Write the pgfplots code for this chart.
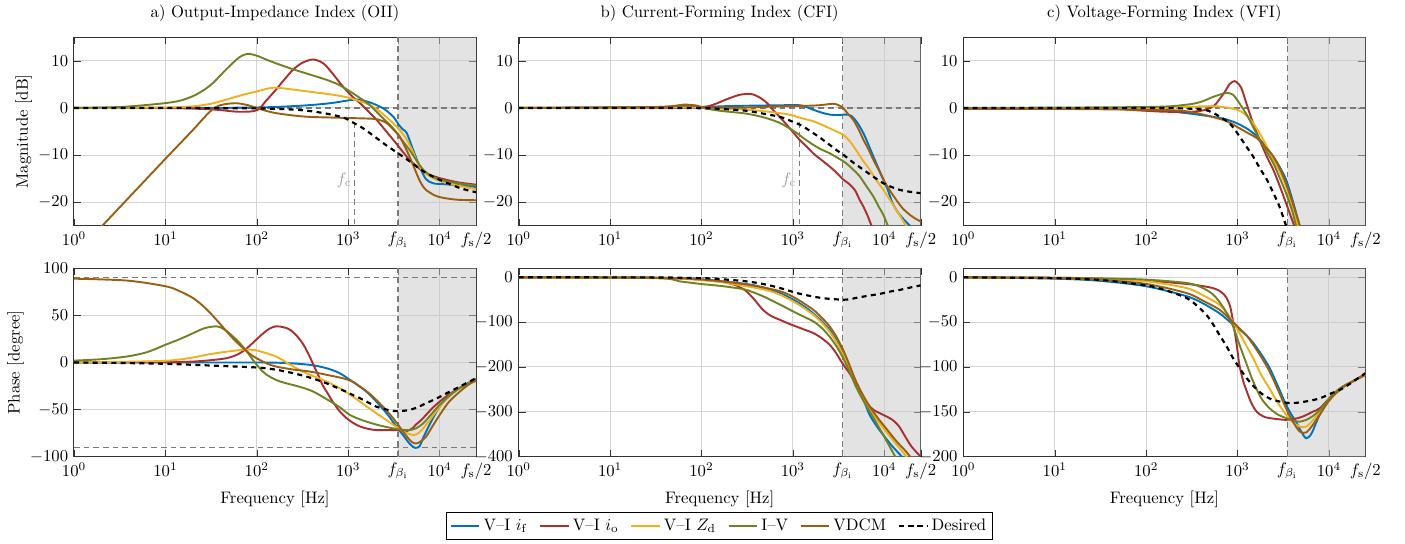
\documentclass[border=0pt]{standalone}
\usepackage{pgfplots}
\pgfplotsset{compat=1.18}
\definecolor{cB}{HTML}{0072BD}
\definecolor{cR}{HTML}{A8302F}
\definecolor{cY}{HTML}{EDB120}
\definecolor{cG}{HTML}{718225}
\definecolor{cO}{HTML}{9B5F14}
\definecolor{shadeC}{HTML}{C8C8C8}
\definecolor{refC}{HTML}{7A7A7A}
\pgfplotsset{
  every axis/.append style={
    scale only axis, width=241.2pt, height=113.0pt,
    xmode=log, xmin=1, xmax=25000,
    xtick={1,10,100,1000,10000},
    extra x ticks={3500,25000},
    extra x tick labels={$f_{\beta_\mathrm{i}}$,$f_\mathrm{s}/2$},
    extra x tick style={grid=none},
    xminorticks=false,
    grid=major,
    major grid style={draw=black!17, line width=0.6pt},
    axis line style={black!80, line width=0.6pt},
    tick style={black!80},
    ylabel shift=-3pt,
  },
  every axis plot/.append style={line width=1.15pt},
}
\tikzset{
  refl/.style={refC, dash pattern=on 3.4pt off 2.4pt, line width=0.75pt},
  shadep/.style={fill=shadeC, fill opacity=0.5, draw=none},
  des/.style={black, dash pattern=on 3pt off 2.6pt, line width=1.3pt},
}
\begin{document}
\begin{tikzpicture}
\useasboundingbox (0,0) rectangle (843pt,326.4pt);

%================ a) magnitude
\begin{axis}[at={(44.4pt,191.0pt)}, anchor=south west,
  ymin=-25, ymax=15, ytick={-20,-10,0,10},
  title={a) Output-Impedance Index (OII)}, ylabel={Magnitude [dB]}]
\addplot[shadep, forget plot] coordinates {(3500,-25) (25000,-25) (25000,15) (3500,15) (3500,-25)};
\addplot[refl, forget plot] coordinates {(1,0) (25000,0)};
\addplot[refl, forget plot] coordinates {(3500,-25) (3500,15)};
\addplot[refl, forget plot] coordinates {(1170,-3) (1170,-25)};
\node[black!38, anchor=east, inner sep=1.5pt] at (axis cs:1170,-15.3) {$f_\mathrm{c}$};
\addplot[cB, smooth] coordinates {(1,0) (10,0) (100,0.1) (316.2,0.5) (631,1.0) (1000,1.6) (1259,1.8) (1585,1.4) (1995,0.7) (2512,-0.3) (3162,-2.0) (3548,-3.5) (3981,-4.6) (4365,-5.3) (5129,-8.9) (6026,-12.4) (7079,-15.1) (8511,-16.0) (11220,-16.2) (15850,-16.4) (25000,-16.8)};
\addplot[cR, smooth] coordinates {(1,0) (10,0) (31.62,-0.3) (63.1,-0.8) (100,-0.5) (125.9,1.5) (162.2,3.9) (199.5,6.0) (251.2,8.2) (316.2,9.6) (407.4,10.3) (501.2,9.8) (575.4,8.9) (707.9,6.8) (871,4.6) (1096,2.5) (1349,1.0) (1660,-0.7) (2042,-2.5) (2512,-4.6) (3090,-6.7) (3802,-8.9) (4677,-11) (5754,-12.6) (7079,-13.8) (8913,-14.6) (10960,-15.1) (15850,-15.8) (25000,-16.3)};
\addplot[cY, smooth] coordinates {(1,0) (10,0.1) (19.95,0.35) (31.62,0.9) (46.77,1.8) (70.79,2.8) (100,3.5) (151.4,4.3) (251.2,3.9) (398.1,3.4) (575.4,3.0) (794.3,2.6) (1047,2.1) (1349,1.4) (1698,0.7) (2239,-0.8) (3090,-3.2) (3631,-4.6) (4365,-6.7) (5012,-9.0) (5754,-11.7) (6607,-13.5) (7762,-14.5) (10000,-15.5) (15850,-16.5) (25000,-17.2)};
\addplot[cG, smooth] coordinates {(1,0) (3.162,0.2) (8.71,0.9) (14.13,1.5) (19.95,2.5) (26.3,3.8) (33.11,5.3) (42.66,7.5) (54.95,9.6) (66.07,10.9) (79.43,11.5) (100,11.1) (125.9,10.3) (177.8,9.2) (251.2,8.2) (380.2,7.1) (575.4,6.0) (794.3,4.9) (1047,3.5) (1349,2.1) (1698,0.7) (2239,-1.6) (3090,-4.3) (3802,-6.6) (4677,-8.9) (5623,-11.2) (6607,-13.1) (8318,-14.6) (10960,-15.4) (15850,-16.0) (25000,-16.5)};
\addplot[cO, smooth] coordinates {(1,-31.4) (3.162,-21.1) (10,-10.8) (19.95,-4.7) (28.18,-1.5) (35.48,0.2) (44.67,0.8) (60.26,1.0) (79.43,0.6) (100,0) (125.9,-0.6) (162.2,-1.1) (251.2,-1.6) (380.2,-1.9) (871,-2.1) (1862,-2.3) (2239,-2.6) (2630,-3.2) (3162,-4.7) (3631,-6) (4169,-8.2) (4677,-10.3) (5248,-12.6) (5754,-14.5) (6310,-16.1) (7079,-17.4) (8913,-18.6) (10960,-19.1) (15850,-19.5) (25000,-19.6)};
\addplot[des, smooth] coordinates {(1,0) (10,0) (100,-0.1) (251.2,-0.35) (398.1,-0.7) (575.4,-1.2) (758.6,-1.7) (955,-2.3) (1175,-3.3) (1349,-3.9) (1660,-5.1) (2042,-6.4) (2512,-7.7) (3090,-8.9) (3802,-10.1) (4677,-11.3) (5754,-12.6) (7079,-13.8) (8913,-14.8) (10960,-15.6) (13490,-16.3) (16600,-17) (20420,-17.5) (25000,-17.9)};
\end{axis}

%================ b) magnitude
\begin{axis}[at={(311.2pt,191.0pt)}, anchor=south west,
  ymin=-25, ymax=15, ytick={-20,-10,0,10},
  title={b) Current-Forming Index (CFI)}]
\addplot[shadep, forget plot] coordinates {(3500,-25) (25000,-25) (25000,15) (3500,15) (3500,-25)};
\addplot[refl, forget plot] coordinates {(1,0) (25000,0)};
\addplot[refl, forget plot] coordinates {(3500,-25) (3500,15)};
\addplot[refl, forget plot] coordinates {(1170,-3) (1170,-25)};
\node[black!38, anchor=east, inner sep=1.5pt] at (axis cs:1170,-15.3) {$f_\mathrm{c}$};
\addplot[cB, smooth] coordinates {(1,0) (63.1,0.2) (100,0.2) (199.5,0.4) (398.1,0.5) (1000,0.6) (1259,0.5) (1660,-0.35) (1995,-0.9) (2512,-1.4) (3162,-1.5) (3802,-1.4) (4365,-1.7) (5012,-3) (5888,-5.3) (6607,-7.5) (7586,-10.3) (8710,-13) (9772,-15.2) (10960,-17.5) (12300,-20.2) (14130,-22.2) (15850,-23.4) (19050,-25) (25000,-27)};
\addplot[cR, smooth] coordinates {(1,0) (31.62,0) (100,0.2) (134.9,0.7) (166,1.4) (204.2,2.1) (263,2.8) (338.8,3.0) (398.1,2.6) (467.7,1.8) (537,0.8) (602.6,-0.35) (724.4,-2) (851.1,-3.5) (1000,-5.1) (1175,-6.7) (1413,-8.2) (1660,-9.6) (2042,-11) (2512,-12.4) (3020,-13.8) (3548,-15.2) (4169,-16.2) (4786,-17.5) (5370,-19.5) (5888,-20.9) (6607,-23) (7244,-25) (8913,-29)};
\addplot[cY, smooth] coordinates {(1,0) (63.1,0.1) (100,0) (309,-0.35) (724.4,-1.1) (1000,-1.6) (1259,-2.2) (1660,-2.8) (2042,-3.5) (2512,-4.3) (3020,-5.0) (3548,-5.7) (4169,-7.0) (4898,-8.9) (5754,-11) (6918,-13.1) (8128,-15.3) (9772,-17.4) (11480,-19.5) (13490,-21.6) (15490,-23.5) (17380,-25) (25000,-29)};
\addplot[cG, smooth] coordinates {(1,0) (31.62,0.2) (63.1,0.6) (89.13,0.4) (104.7,0) (158.5,-0.6) (309,-1.2) (501.2,-2.1) (724.4,-3.2) (891.3,-4.2) (1096,-5.3) (1349,-6.6) (1660,-7.8) (2042,-8.8) (2512,-9.6) (3090,-10.6) (3802,-11.7) (4571,-13.1) (5370,-14.5) (6310,-16.5) (7586,-18.8) (8710,-21) (9772,-22.7) (10960,-25) (14130,-29)};
\addplot[cO, smooth] coordinates {(1,0) (31.62,0.2) (63.1,0.7) (89.13,0.5) (112.2,0.1) (316.2,0.1) (724.4,0.35) (1660,0.5) (2239,0.7) (2754,0.9) (3162,0.6) (3548,0) (3981,-1.2) (4571,-2.5) (5248,-4.6) (5888,-6.7) (6761,-8.9) (7586,-11) (8710,-13.2) (9772,-15.2) (11480,-17.5) (13490,-19.5) (15850,-21.3) (19050,-22.7) (21880,-23.5) (25000,-24.1)};
\addplot[des, smooth] coordinates {(1,0) (10,0) (100,-0.05) (158.5,-0.2) (309,-0.6) (501.2,-1.3) (724.4,-1.9) (933.3,-2.7) (1175,-3.5) (1413,-4.4) (1660,-5.3) (2042,-6.5) (2512,-7.8) (3020,-9) (3548,-9.9) (4571,-11.6) (5888,-13.1) (7586,-14.6) (9772,-16) (12020,-16.8) (14790,-17.4) (19050,-17.8) (25000,-18.1)};
\end{axis}

%================ c) magnitude
\begin{axis}[at={(578.0pt,191.0pt)}, anchor=south west,
  ymin=-25, ymax=15, ytick={-20,-10,0,10},
  title={c) Voltage-Forming Index (VFI)}]
\addplot[shadep, forget plot] coordinates {(3500,-25) (25000,-25) (25000,15) (3500,15) (3500,-25)};
\addplot[refl, forget plot] coordinates {(1,0) (25000,0)};
\addplot[refl, forget plot] coordinates {(3500,-25) (3500,15)};
\addplot[cB, smooth] coordinates {(1,-0.1) (10,-0.1) (100,-0.35) (275.4,-1.1) (631,-2.1) (831.8,-2.7) (1047,-3.5) (1318,-4.6) (1622,-6) (1995,-8.0) (2455,-10.3) (2884,-12.5) (3388,-15.2) (3981,-19.5) (4786,-25) (5495,-29)};
\addplot[cR, smooth] coordinates {(1,0) (31.62,-0.1) (79.43,-0.5) (158.5,-0.8) (316.2,-0.8) (457.1,-0.35) (562.3,0.6) (631,1.8) (724.4,3.4) (812.8,5) (891.3,5.6) (933.3,5.7) (1000,5.3) (1096,4.3) (1202,2.0) (1349,-1) (1514,-3.8) (1738,-6.7) (2042,-9.9) (2455,-13.1) (2884,-16.5) (3388,-20.2) (4169,-25) (5012,-29)};
\addplot[cY, smooth] coordinates {(1,0) (100,0) (416.9,0.35) (631,0.3) (977.2,-0.35) (1202,-1.3) (1479,-3.2) (1905,-6.7) (2455,-11) (2884,-13.5) (3388,-16.7) (3981,-21) (4571,-25) (5248,-28)};
\addplot[cG, smooth] coordinates {(1,0) (100,0.2) (275.4,0.7) (398.1,1.3) (501.2,2.1) (631,2.8) (758.6,3.2) (891.3,2.8) (1047,1.0) (1202,-0.8) (1349,-2.5) (1738,-6.7) (2042,-9.0) (2455,-11.7) (2884,-14.8) (3388,-18.1) (3981,-22) (4365,-25) (5012,-28)};
\addplot[cO, smooth] coordinates {(1,-0.2) (10,-0.2) (100,-0.4) (275.4,-0.7) (631,-2.3) (831.8,-3.2) (1047,-4.3) (1318,-5.4) (1622,-6.4) (1995,-8.2) (2455,-10.3) (2884,-12.8) (3388,-16) (3981,-20) (4786,-25) (5495,-29)};
\addplot[des, smooth] coordinates {(1,0) (100,0) (251.2,-0.1) (416.9,-0.35) (524.8,-0.9) (631,-1.8) (724.4,-2.5) (812.8,-3.2) (933.3,-4.6) (1047,-6) (1259,-8.3) (1479,-10.3) (1778,-13) (2089,-15.2) (2455,-18) (2884,-21) (3388,-25) (3981,-29)};
\end{axis}

%================ a) phase
\begin{axis}[at={(44.4pt,52.4pt)}, anchor=south west,
  ymin=-100, ymax=100, ytick={-100,-50,0,50,100},
  xlabel={Frequency [Hz]}, ylabel={Phase [degree]}]
\addplot[shadep, forget plot] coordinates {(3500,-100) (25000,-100) (25000,100) (3500,100) (3500,-100)};
\addplot[refl, forget plot] coordinates {(1,90) (25000,90)};
\addplot[refl, forget plot] coordinates {(1,-90) (25000,-90)};
\addplot[refl, forget plot] coordinates {(3500,-100) (3500,100)};
\addplot[cB, smooth] coordinates {(1,0) (10,0) (100,0) (199.5,-0.5) (380.2,-2.5) (575.4,-6) (794.3,-11) (1047,-18.5) (1288,-24.5) (1585,-31) (1862,-37.5) (2188,-45) (2630,-54) (3090,-63) (3548,-71) (3981,-77) (4677,-86) (5370,-90.6) (6026,-89) (6607,-80) (7762,-66) (8913,-55) (10000,-47) (12590,-36) (16600,-27) (20420,-22) (25000,-17.4)};
\addplot[cR, smooth] coordinates {(1,0) (10,0.3) (19.95,1) (31.62,2.5) (46.77,4.6) (63.1,9) (77.62,15) (95.5,23) (117.5,31) (138,36) (162.2,38.4) (195,37.5) (229.1,35) (275.4,28) (323.6,19) (371.5,8) (416.9,-2.5) (467.7,-13) (524.8,-24) (602.6,-33.5) (676.1,-41.6) (794.3,-51) (955,-59) (1148,-64.5) (1349,-68) (1660,-70.5) (2042,-71.8) (3090,-71.8) (3802,-72.3) (4365,-72.8) (5012,-70) (5495,-66) (6310,-61) (7079,-55.8) (8318,-48.5) (10000,-41.6) (12590,-34) (16600,-27) (20420,-23) (25000,-19.5)};
\addplot[cY, smooth] coordinates {(1,0) (3.162,0.7) (10,1.8) (17.78,4.5) (30.9,8.9) (46.77,11.5) (70.79,13.5) (85.11,13.6) (100,12.8) (125.9,10) (162.2,6.4) (199.5,1.5) (251.2,-4.3) (309,-9) (380.2,-13) (467.7,-16.5) (575.4,-20) (707.9,-24.5) (871,-29) (1096,-35.5) (1349,-41.6) (1660,-48) (2042,-54) (2512,-60) (3090,-66) (3631,-70.5) (4365,-75) (5129,-77) (5754,-75.5) (6607,-70) (7943,-60) (10000,-47) (12590,-36) (16600,-27) (20420,-22.5) (25000,-18.5)};
\addplot[cG, smooth] coordinates {(1,2) (1.995,3.5) (3.802,6.4) (6.31,11) (10,18.8) (14.13,24.5) (19.95,31) (26.92,36.5) (36.31,38.4) (42.66,36) (50.12,31) (63.1,22) (77.62,11.7) (91.2,2.5) (107.2,-6) (125.9,-12.5) (162.2,-18.5) (199.5,-21.5) (251.2,-24) (323.6,-27) (416.9,-31) (575.4,-38.7) (794.3,-47) (1047,-55.8) (1445,-61.5) (2042,-66) (2630,-68.5) (3388,-70.7) (3981,-71.5) (4677,-71.8) (5495,-70) (6607,-64.7) (7943,-56) (10000,-45) (12590,-36) (16600,-27) (20420,-22) (25000,-17.4)};
\addplot[cO, smooth] coordinates {(1,89) (3.802,87) (10,81) (14.13,76) (19.95,68.6) (25.12,61) (30.9,52.6) (38.02,43) (46.77,33) (57.54,23.5) (70.79,15.3) (87.1,8) (107.2,2.8) (131.8,-1.5) (162.2,-4.3) (251.2,-7.5) (380.2,-9.6) (575.4,-13) (871,-16.7) (1096,-20) (1349,-25.6) (1660,-32) (2042,-40) (2512,-49) (3090,-59) (3631,-68) (4169,-76) (4898,-84) (5495,-86) (6166,-84) (7079,-79) (8318,-68) (10000,-55.8) (12590,-42) (16600,-31) (20420,-24) (25000,-18.5)};
\addplot[des, smooth] coordinates {(1,0) (3.162,-0.5) (10,-1.4) (30.9,-3.2) (100,-5.3) (158.5,-7.5) (251.2,-11.4) (380.2,-16) (575.4,-22) (871,-29.5) (1096,-34) (1349,-38) (1660,-42.5) (2042,-47) (2512,-49.5) (3090,-51.5) (3802,-51.5) (4677,-50.4) (5754,-47.5) (7079,-43.3) (8913,-39) (10960,-34.5) (13490,-30) (16600,-25.6) (20420,-21) (25000,-16.7)};
\end{axis}

%================ b) phase
\begin{axis}[at={(311.2pt,52.4pt)}, anchor=south west,
  ymin=-400, ymax=20, ytick={-400,-300,-200,-100,0},
  xlabel={Frequency [Hz]},
  legend columns=6,
  legend style={at={(0.5,-0.368)}, anchor=center, draw=black, line width=0.5pt,
    inner xsep=2pt, inner ysep=2pt,
    /tikz/every even column/.append style={column sep=5pt}},
  legend cell align=left]
\addplot[shadep, forget plot] coordinates {(3500,-400) (25000,-400) (25000,20) (3500,20) (3500,-400)};
\addplot[refl, forget plot] coordinates {(1,0) (25000,0)};
\addplot[refl, forget plot] coordinates {(3500,-400) (3500,20)};
\addplot[cB, smooth] coordinates {(1,0) (10,0) (31.62,-1) (100,-5) (309,-15) (501.2,-24) (724.4,-35) (891.3,-44) (1096,-54) (1349,-66) (1660,-80) (2042,-97) (2512,-117) (3020,-142) (3548,-169) (4169,-203) (4786,-232) (5370,-255) (6166,-282) (6918,-307) (8318,-333) (9772,-352) (12020,-375) (14790,-395) (15850,-402)};
\addlegendentry{V--I $i_\mathrm{f}$}
\addplot[cR, smooth] coordinates {(1,0) (31.62,-1) (100,-5) (158.5,-9) (223.9,-16) (263,-22) (309,-31) (380.2,-50) (467.7,-72) (575.4,-86) (724.4,-95) (891.3,-103) (1096,-110) (1349,-117) (1660,-124) (2042,-135) (2512,-150) (2951,-168) (3388,-188) (3802,-203) (4169,-214) (4786,-235) (5370,-255) (6166,-273) (6918,-288) (7943,-298) (8913,-303) (10470,-310) (12300,-318) (14450,-332) (17380,-359) (19950,-378) (25000,-400)};
\addlegendentry{V--I $i_\mathrm{o}$}
\addplot[cY, smooth] coordinates {(1,0) (31.62,-1) (134.9,-9) (309,-20) (501.2,-28) (724.4,-39) (1096,-58) (1660,-83) (2042,-100) (2512,-121) (3020,-146) (3548,-173) (4169,-203) (4898,-232) (5888,-266) (6918,-292) (8511,-320) (10470,-344) (12880,-367) (15850,-389) (17780,-402)};
\addlegendentry{V--I $Z_\mathrm{d}$}
\addplot[cG, smooth] coordinates {(1,0) (31.62,-2) (57.54,-9) (100,-15) (158.5,-19) (223.9,-23) (309,-28) (467.7,-42) (724.4,-61) (1096,-80) (1660,-98) (2042,-112) (2512,-132) (3020,-155) (3548,-180) (4169,-210) (4898,-244) (5888,-275) (6918,-299) (8318,-327) (9772,-352) (11480,-378) (13180,-400)};
\addlegendentry{I--V}
\addplot[cO, smooth] coordinates {(1,0) (31.62,-1) (100,-5) (309,-16) (724.4,-31) (1096,-48) (1660,-72) (2042,-89) (2512,-109) (3020,-134) (3548,-162) (4169,-196) (4898,-232) (5888,-264) (6918,-288) (8511,-314) (10470,-337) (13490,-365) (17380,-389) (19500,-402)};
\addlegendentry{VDCM}
\addplot[des, smooth] coordinates {(1,0) (31.62,-0.3) (100,-2) (134.9,-3) (309,-9) (501.2,-16) (724.4,-24) (1096,-35) (1349,-39) (1660,-43) (2042,-46) (2512,-48) (3548,-50) (4169,-49) (4898,-46) (6310,-42) (8913,-37) (11480,-32) (14790,-28) (19050,-23) (25000,-18)};
\addlegendentry{Desired}
\end{axis}

%================ c) phase
\begin{axis}[at={(578.0pt,52.4pt)}, anchor=south west,
  ymin=-200, ymax=10, ytick={-200,-150,-100,-50,0},
  xlabel={Frequency [Hz]}]
\addplot[shadep, forget plot] coordinates {(3500,-200) (25000,-200) (25000,10) (3500,10) (3500,-200)};
\addplot[refl, forget plot] coordinates {(3500,-200) (3500,10)};
\addplot[cB, smooth] coordinates {(1,0) (10,-1.5) (31.62,-4) (100,-10) (275.4,-21) (416.9,-29) (631,-40) (831.8,-50) (1047,-58) (1259,-65) (1479,-73) (1820,-86) (2239,-101) (2754,-121) (3388,-142) (3981,-155) (4365,-161) (4786,-169) (5248,-176) (5623,-179.5) (6166,-177) (6607,-172) (7244,-162) (7943,-153) (9333,-141) (10960,-131) (14130,-122) (18200,-116) (25000,-108)};
\addplot[cR, smooth] coordinates {(1,0) (10,-0.5) (31.62,-1.5) (100,-3.7) (275.4,-7.4) (398.1,-9.5) (537,-12) (631,-15) (707.9,-19) (758.6,-23) (831.8,-33) (891.3,-49) (977.2,-75) (1047,-97.6) (1148,-115) (1259,-127) (1413,-140) (1622,-150) (1905,-155) (2239,-157) (3388,-159) (4365,-157.5) (5248,-155) (6607,-150) (7943,-146) (10960,-131) (14130,-122) (18200,-116) (25000,-109)};
\addplot[cY, smooth] coordinates {(1,0) (10,-0.8) (31.62,-2) (100,-4.5) (275.4,-12) (416.9,-20) (631,-30.5) (831.8,-45) (1047,-62) (1259,-77) (1479,-90) (1820,-109) (2239,-124) (2754,-140) (3388,-153) (3981,-161) (4786,-166.5) (5623,-166.5) (6607,-160) (7943,-150) (9333,-140) (10960,-131) (14130,-122) (18200,-116) (25000,-108)};
\addplot[cG, smooth] coordinates {(1,0) (10,-0.5) (31.62,-1.2) (100,-2.6) (275.4,-6.3) (398.1,-11) (537,-19) (660.7,-30) (812.8,-45) (933.3,-60) (1047,-75) (1259,-97) (1479,-116) (1820,-135) (2239,-146) (2754,-153) (3388,-157) (4169,-160) (4786,-161) (5623,-159) (6607,-155) (7943,-148) (10960,-131) (14130,-122) (18200,-116) (25000,-108)};
\addplot[cO, smooth] coordinates {(1,0) (10,-1) (31.62,-3) (100,-7.4) (275.4,-17.5) (416.9,-26) (631,-36) (831.8,-47) (1047,-57) (1259,-65) (1479,-75) (1820,-89) (2239,-105) (2754,-125) (3388,-146) (3981,-160) (4786,-172) (5623,-173) (6607,-165) (7943,-153) (9333,-142) (10960,-133) (14130,-123) (18200,-116) (25000,-108)};
\addplot[des, smooth] coordinates {(1,0) (10,-1) (31.62,-3) (100,-9) (158.5,-14) (275.4,-23) (363.1,-32) (457.1,-42) (537,-52) (631,-64) (758.6,-77) (891.3,-90) (1047,-101) (1259,-112.5) (1549,-123) (1905,-131) (2344,-136) (2884,-138.5) (3548,-140) (4365,-140) (5888,-138) (7943,-135) (10230,-130) (13180,-125.5) (17380,-118) (20420,-113) (25000,-107)};
\end{axis}
\end{tikzpicture}
\end{document}
